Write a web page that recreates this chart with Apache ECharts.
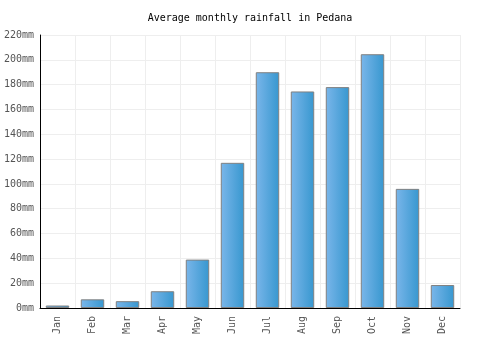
<!DOCTYPE html>
<html>
<head>
<meta charset="utf-8">
<script src="https://cdn.jsdelivr.net/npm/echarts@6/dist/echarts.min.js"></script>
<style>
  html, body { margin: 0; padding: 0; background: #fff; }
  #chart { width: 500px; height: 350px; }
</style>
</head>
<body>
<div id="chart"></div>
<script>
const months = ['Jan', 'Feb', 'Mar', 'Apr', 'May', 'Jun', 'Jul', 'Aug', 'Sep', 'Oct', 'Nov', 'Dec'];
const rainfall = [2, 7, 5.5, 13.5, 39, 117, 190, 174.5, 178, 204.5, 96, 18.5];

const chart = echarts.init(document.getElementById('chart'));
const font = 'DejaVu Sans Mono';

const option = {
    animation: false,
    title: {
        text: 'Average monthly rainfall in Pedana',
        left: 'center',
        top: 8,
        textStyle: { fontFamily: font, fontSize: 10, fontWeight: 'normal', color: '#000' }
    },
    grid: { left: 40, right: 40, top: 35, bottom: 42 },
    xAxis: {
        type: 'category',
        data: months,
        axisLine: { lineStyle: { color: '#000', width: 1 } },
        axisTick: { show: false },
        axisLabel: { rotate: 90, color: '#555', fontFamily: font, fontSize: 10, margin: 8 },
        splitLine: { show: true, lineStyle: { color: '#eee' } }
    },
    yAxis: {
        type: 'value',
        min: 0,
        max: 220,
        interval: 20,
        axisLine: { show: true, lineStyle: { color: '#000', width: 1 } },
        axisTick: { show: false },
        axisLabel: { formatter: '{value}mm', color: '#555', fontFamily: font, fontSize: 10, margin: 6 },
        splitLine: { lineStyle: { color: '#eee' } }
    },
    series: [{
        type: 'bar',
        data: rainfall,
        barWidth: '67%',
        itemStyle: {
            color: new echarts.graphic.LinearGradient(0, 0, 1, 0, [
                { offset: 0, color: '#7ab6ea' },
                { offset: 1, color: '#3797cf' }
            ]),
            borderColor: '#808080',
            borderWidth: 1
        }
    }]
};

chart.setOption(option);
</script>
</body>
</html>
